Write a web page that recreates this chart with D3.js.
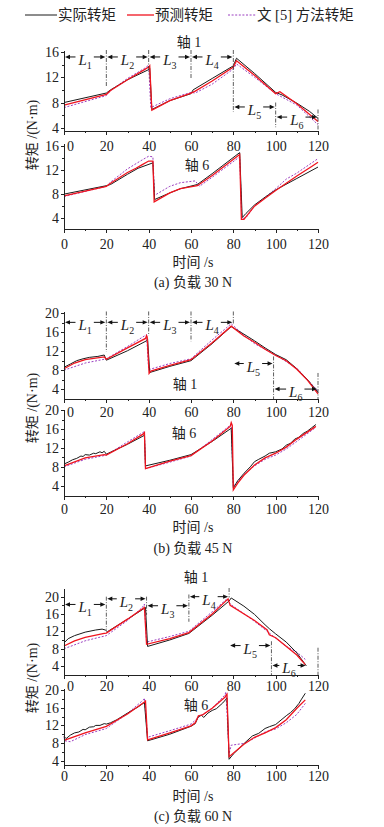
<!DOCTYPE html>
<meta charset="utf-8">
<style>
body { margin: 0; background: #fff; }
svg text { font-family: "Liberation Serif", "Noto Sans CJK SC", serif; fill: #222; }
.axis path, .axis line { stroke: #222; stroke-width: 1px; shape-rendering: crispEdges; }
.axis text { font-size: 14px; }
.black { fill: none; stroke: #1a1a1a; stroke-width: 1px; }
.red { fill: none; stroke: #f0141e; stroke-width: 1.3px; }
.purple { fill: none; stroke: #9b3fc0; stroke-width: 1px; stroke-dasharray: 2,1.6; }
.bound { stroke: #333; stroke-width: 0.8px; stroke-dasharray: 4,1.5,1,1.5; }
.arrow { stroke: #111; stroke-width: 1px; }
</style>
<body>
<script src="https://d3js.org/d3.v7.min.js"></script>
<script>
// time ticks (s)
var timeTicks = [0, 20, 40, 60, 80, 100, 120];
var timeMinor = [10, 30, 50, 70, 90, 110];

// (a) 30 N, axis 1  [t, torque]
var a1Black = [[0,8.0],[20,9.5],[22,10.0],[30,11.6],[40,13.2],[40.5,13.4],[41.5,6.9],[50,8.3],[60,9.4],[61,10.0],[70,11.8],[80,13.8],[81.5,15.0],[90,12.6],[100,9.6],[103,9.2],[110,7.9],[116,6.6],[120,5.5]];
var a1Red = [[0,7.6],[20,9.3],[22,9.9],[30,11.6],[38,13.2],[40,13.6],[40.5,13.8],[41.5,6.8],[50,8.3],[60,9.5],[62,9.8],[70,11.4],[80,13.6],[81.5,14.6],[90,12.3],[100,9.4],[102,9.7],[110,7.8],[120,5.0]];
var a1Purple = [[0,7.2],[20,9.1],[22,9.9],[30,11.8],[38,13.4],[40,13.9],[41,7.2],[50,8.6],[60,9.6],[62,9.5],[70,10.9],[80,13.3],[81.5,14.1],[90,12.0],[100,9.4],[110,7.6],[120,4.5]];
// (a) 30 N, axis 6
var a6Black = [[0,8.0],[20,9.4],[22,9.6],[30,11.3],[35,12.3],[42,13.2],[42.8,7.1],[50,8.2],[55,8.9],[63,9.6],[70,11.4],[83,14.9],[84.2,4.1],[86,4.8],[90,6.2],[95,7.5],[100,8.7],[110,10.6],[120,12.5]];
var a6Red = [[0,7.7],[20,9.3],[22,9.8],[30,11.6],[34,12.3],[37,12.9],[40,13.5],[42,13.5],[42.6,6.7],[50,8.2],[55,8.9],[63,9.4],[70,11.1],[83,14.6],[83.8,3.8],[85,3.8],[90,6.0],[95,7.3],[100,8.6],[110,11.0],[117,12.6],[120,13.3]];
var a6Purple = [[0,7.6],[20,9.3],[22,10.0],[30,12.2],[37,13.7],[40,14.3],[42,14.2],[42.8,7.8],[50,9.3],[55,9.9],[62,10.2],[64,9.3],[70,10.8],[83,14.2],[84,3.9],[86,4.1],[90,6.0],[100,8.9],[105,10.5],[110,11.5],[120,13.9]];

// (b) 45 N, axis 1
var b1Black = [[0,8.6],[3,9.3],[6,10.0],[9,10.4],[12,10.7],[16,10.9],[19,11.2],[20,10.1],[30,12.1],[39,14.2],[39.5,14.6],[40.5,7.5],[50,8.8],[60,10.0],[70,13.6],[79,17.2],[85,15.6],[90,14.2],[95,12.7],[100,11.3],[105,10.2],[110,8.3],[115,6.0],[120,3.3]];
var b1Red = [[0,8.3],[5,9.5],[10,10.2],[19,10.8],[20,10.3],[30,12.7],[38.5,14.7],[39,15.3],[39.3,15.0],[40.2,7.3],[41,7.8],[50,9.0],[60,10.2],[70,13.8],[79,17.3],[85,15.2],[90,13.9],[95,12.4],[100,11.1],[105,10.0],[110,8.2],[115,5.9],[120,3.0]];
var b1Purple = [[0,8.0],[10,9.5],[19,10.3],[20,10.4],[30,13.0],[39,15.5],[40,8.1],[50,9.4],[60,10.4],[70,14.4],[79,17.8],[85,15.4],[90,13.6],[100,11.2],[110,8.4],[120,3.6]];
// (b) 45 N, axis 6
var b6Black = [[0,8.6],[2,9.0],[4,9.5],[6,9.8],[8,10.3],[9,10.2],[10,10.6],[12,10.5],[14,10.9],[15,10.8],[17,11.2],[18,11.0],[19,11.3],[20,10.7],[30,12.8],[38,14.7],[38.5,8.2],[50,9.4],[60,10.6],[70,13.4],[79,16.2],[80,3.5],[82,5.0],[85,6.6],[88,8.0],[90,9.1],[92,9.6],[95,10.3],[97,10.9],[100,11.2],[103,11.8],[105,12.6],[107,13.0],[109,13.9],[111,14.3],[113,15.1],[115,15.6],[117,16.3],[119,17.0]];
var b6Red = [[0,8.2],[10,9.9],[19,10.6],[20,10.5],[30,12.9],[37.5,15.0],[38,15.3],[38.5,7.6],[50,9.2],[60,10.4],[70,13.5],[78.5,16.6],[79,17.4],[79.5,16.8],[80,3.1],[82,4.5],[85,6.2],[90,8.4],[95,9.9],[100,10.9],[105,12.2],[110,13.9],[119,16.6]];
var b6Purple = [[0,8.0],[10,9.6],[19,10.4],[20,10.5],[30,13.3],[38,15.5],[38.5,7.6],[50,9.0],[60,10.3],[70,13.8],[79,17.0],[80,3.8],[85,6.4],[90,8.2],[95,9.6],[100,10.5],[105,11.8],[110,13.4],[119,16.4]];

// (c) 60 N, axis 1
var c1Black = [[0,9.3],[2,10.3],[5,11.0],[10,11.8],[15,12.3],[18,12.5],[19.5,12.3],[20.5,11.9],[30,14.8],[38,17.3],[38.5,17.5],[39.5,8.5],[50,10.0],[59,11.5],[70,15.7],[78,19.0],[79,19.7],[85,17.8],[90,15.9],[95,13.5],[97,12.6],[100,11.4],[105,9.5],[110,7.0],[114.5,4.0]];
var c1Red = [[0,8.6],[5,9.8],[10,10.6],[19,11.5],[20,11.6],[30,14.8],[38,17.5],[39,9.0],[50,10.3],[59,11.7],[70,16.0],[77.5,19.5],[78.5,18.0],[90,14.5],[96,12.3],[97,11.2],[100,10.5],[110,6.5],[114,4.3]];
var c1Purple = [[0,8.0],[3,8.5],[10,9.8],[20,11.0],[30,14.5],[37,17.5],[38,18.3],[39,9.5],[50,10.8],[59,12.0],[70,16.5],[77,19.5],[78.5,18.3],[90,14.3],[97,11.6],[105,8.5],[110,7.2],[114,5.5]];
// (c) 60 N, axis 6
var c6Black = [[0,9.5],[1,9.0],[3,9.8],[5,10.3],[7,10.5],[9,11.1],[10,11.0],[12,11.6],[14,11.7],[15,12.0],[17,12.0],[19,12.4],[20,12.3],[22,12.6],[25,13.3],[30,14.8],[35,16.2],[38,17.2],[39.5,8.5],[50,10.0],[60,11.8],[62,12.4],[63.5,14.0],[65,14.3],[66,13.8],[68,14.8],[70,15.4],[72,15.8],[75,17.1],[77,18.2],[78,4.3],[80,5.5],[83,6.9],[86,8.3],[89,9.6],[92,10.2],[95,11.3],[97,11.7],[100,12.2],[103,13.4],[105,14.2],[107,14.9],[109,15.8],[111,17.0],[112,17.8],[114,19.3]];
var c6Red = [[0,8.6],[10,10.3],[20,11.8],[30,14.6],[38,17.3],[38.5,17.5],[39.5,8.7],[50,10.3],[60,11.9],[62,12.6],[63.5,14.2],[65.5,14.4],[70,15.9],[76,18.4],[77,19.1],[78,4.9],[85,7.7],[90,9.3],[95,10.3],[100,11.5],[105,13.3],[110,15.9],[114,17.8]];
var c6Purple = [[0,9.3],[0.5,8.5],[3,8.3],[10,9.9],[20,11.3],[30,14.7],[37.5,17.8],[38,18.2],[39.5,9.3],[50,10.8],[60,12.3],[64,14.0],[70,15.9],[76,18.9],[76.5,19.6],[78,5.6],[79,7.5],[85,7.9],[90,9.1],[95,10.5],[100,11.2],[105,12.6],[110,14.5],[114,17.0]];

// segment boundaries [t, top, bottom] and L spans [t0, t1, level, index]
var aBounds = [[20,16.3,10.5],[40,16.3,12.8],[60,16.3,11.8],[80,16.3,6.5],[100,8.0,4.1],[120,6.9,3.5]];
var aSpans = [[0,20,15.2,1],[20,40,15.2,2],[40,60,15.2,3],[60,80,15.2,4],[80,100,7.3,5],[100,120,5.7,6]];
var bBounds = [[20,20.4,11.9],[40,20.4,15.3],[60,20.4,14.1],[80,20.4,17.7],[99,10.9,1.9],[120,7.4,1.9]];
var bSpans = [[0,20,18.1,1],[20,40,18.1,2],[40,60,18.1,3],[60,80,18.1,4],[80,99,9.4,5],[99,120,4.0,6]];
var cBounds = [[20,20,12.4],[39,20,15.8],[59,20.5,14.2],[78,22,19.8],[98,9.7,1.9],[120,8.2,1.9]];
var cSpans = [[0,20,18.2,1],[20,39,19.5,2],[39,59,17.9,3],[59,78,20.0,4],[78,98,8.7,5],[98,114.6,4.1,6]];

var legendNames = ["实际转矩", "预测转矩", "文 [5] 方法转矩"];

var width = 384, height = 827;
var xLeft = 64, xRight = 318;

var panels = [
  {cap: "(a) 负载 30 N", capY: 282, xlabY: 262, ylabY: 135,
   plots: [
     {y0: 131, y1: 50, dom: [3.5, 16.3], yt: [4, 8, 12, 16], lab: 15, s: [a1Purple, a1Black, a1Red], title: ["轴 1", 189, 42], bounds: aBounds, spans: aSpans, shift0: true},
     {y0: 229, y1: 143, dom: [2.2, 16.5], yt: [4, 8, 12, 16], lab: 15, s: [a6Purple, a6Black, a6Red], title: ["轴 6", 197, 165]}
   ]},
  {cap: "(b) 负载 45 N", capY: 548, xlabY: 527, ylabY: 408,
   plots: [
     {y0: 399, y1: 311, dom: [1.9, 20.5], yt: [4, 8, 12, 16, 20], lab: 13, s: [b1Purple, b1Black, b1Red], title: ["轴 1", 185, 384], bounds: bBounds, spans: bSpans, shift0: true},
     {y0: 496, y1: 409, dom: [1.8, 20.3], yt: [4, 8, 12, 16, 20], lab: 13, s: [b6Purple, b6Black, b6Red], title: ["轴 6", 184, 433]}
   ]},
  {cap: "(c) 负载 60 N", capY: 816, xlabY: 796, ylabY: 678,
   plots: [
     {y0: 675, y1: 588, dom: [1.9, 22], yt: [4, 8, 12, 16, 20], lab: 11, s: [c1Purple, c1Black, c1Red], title: ["轴 1", 196, 577], bounds: cBounds, spans: cSpans, shift0: true},
     {y0: 765, y1: 688, dom: [3, 20.5], yt: [4, 8, 12, 16, 20], lab: 11, s: [c6Purple, c6Black, c6Red], title: ["轴 6", 196, 705]}
   ]}
];

var svg = d3.select("body").append("svg")
    .attr("width", width)
    .attr("height", height);

var x = d3.scaleLinear().domain([0, 120]).range([xLeft, xRight]);
var cls = ["purple", "black", "red"];

// legend
var lg = svg.append("g").attr("class", "legend");
var legX = [[25, 57], [127, 154], [228, 256]];
[1, 2, 0].forEach(function(k, i) {
  lg.append("line").attr("class", cls[k])
    .attr("x1", legX[i][0]).attr("x2", legX[i][1])
    .attr("y1", 15).attr("y2", 15);
  lg.append("text").attr("x", legX[i][1] + 1).attr("y", 15)
    .attr("dominant-baseline", "central")
    .style("font-size", "14.5px")
    .text(legendNames[i]);
});

panels.forEach(function(p) {
  p.plots.forEach(function(q) {
    var y = d3.scaleLinear().domain(q.dom).range([q.y0, q.y1]);
    var g = svg.append("g");

    var line = d3.line().x(function(d) { return x(d[0]); }).y(function(d) { return y(d[1]); });
    q.s.forEach(function(ser, k) {
      g.append("path").datum(ser).attr("class", cls[k]).attr("d", line);
    });

    // axes
    var xa = g.append("g").attr("class", "axis")
        .attr("transform", "translate(0," + q.y0 + ")")
        .call(d3.axisBottom(x).tickValues(timeTicks).tickSize(4).tickSizeOuter(0).tickPadding(q.lab - 9.3));
    if (q.shift0) xa.selectAll(".tick text").filter(function(d) { return d === 0; }).attr("dx", 6);
    g.append("g").attr("class", "axis")
        .attr("transform", "translate(0," + q.y0 + ")")
        .call(d3.axisBottom(x).tickValues(timeMinor).tickSize(2).tickSizeOuter(0).tickFormat(""));
    g.append("g").attr("class", "axis")
        .attr("transform", "translate(" + xLeft + ",0)")
        .call(d3.axisLeft(y).tickValues(q.yt).tickSize(3).tickSizeOuter(0).tickPadding(2));
    g.append("g").attr("class", "axis")
        .attr("transform", "translate(" + xLeft + ",0)")
        .call(d3.axisLeft(y).tickValues(q.yt.map(function(v) { return v + 2; }).filter(function(v) { return v < q.dom[1]; })).tickSize(2).tickSizeOuter(0).tickFormat(""));

    g.append("text").attr("x", q.title[1]).attr("y", q.title[2])
      .attr("text-anchor", "middle").attr("dominant-baseline", "central")
      .style("font-size", "14px").text(q.title[0]);

    if (q.bounds) {
      g.selectAll(".bound").data(q.bounds).enter().append("line")
        .attr("class", "bound")
        .attr("x1", function(d) { return x(d[0]); }).attr("x2", function(d) { return x(d[0]); })
        .attr("y1", function(d) { return y(d[1]); }).attr("y2", function(d) { return y(d[2]); });

      q.spans.forEach(function(s) {
        var xa0 = x(s[0]) + 1, xa1 = x(s[1]) - 1, yy = y(s[2]), xm = (x(s[0]) + x(s[1])) / 2;
        var t = g.append("text").attr("x", xm).attr("y", yy + 8).attr("text-anchor", "middle");
        t.append("tspan").style("font-style", "italic").style("font-size", "15px").text("L");
        t.append("tspan").style("font-size", "10px").attr("dy", 4).text(s[3]);
        var bb = t.node().getBBox();
        var l0 = bb.x - 2, r0 = bb.x + bb.width + 2;
        g.append("line").attr("class", "arrow").attr("x1", xa0 + 3).attr("x2", l0).attr("y1", yy).attr("y2", yy);
        g.append("line").attr("class", "arrow").attr("x1", r0).attr("x2", xa1 - 3).attr("y1", yy).attr("y2", yy);
        g.append("path").attr("fill", "#111")
          .attr("d", "M" + xa0 + "," + yy + "l5,-2.2v4.4z");
        g.append("path").attr("fill", "#111")
          .attr("d", "M" + xa1 + "," + yy + "l-5,-2.2v4.4z");
      });
    }
  });

  svg.append("text").attr("x", (xLeft + xRight) / 2 + 2).attr("y", p.xlabY)
    .attr("text-anchor", "middle").attr("dominant-baseline", "central")
    .style("font-size", "14px").text("时间 /s");
  svg.append("text").attr("x", (xLeft + xRight) / 2 + 2).attr("y", p.capY)
    .attr("text-anchor", "middle").attr("dominant-baseline", "central")
    .style("font-size", "14px").text(p.cap);
  svg.append("text")
    .attr("transform", "translate(32," + p.ylabY + ") rotate(-90)")
    .attr("text-anchor", "middle").attr("dominant-baseline", "central")
    .style("font-size", "14px").text("转矩 /(N·m)");
});
</script>
</body>
